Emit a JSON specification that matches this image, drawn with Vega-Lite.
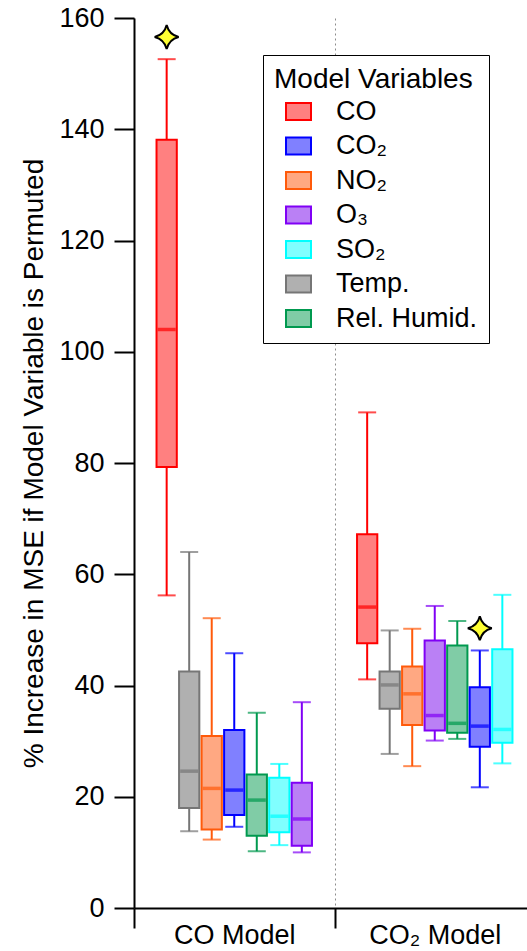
{
  "$schema": "https://vega.github.io/schema/vega-lite/v6.json",
  "width": 393,
  "height": 890,
  "autosize": {"type": "none"},
  "padding": {"left": 134, "top": 18, "right": 0, "bottom": 43},
  "config": {
    "font": "Liberation Sans",
    "view": {"stroke": null},
    "axis": {"labelColor": "black", "titleColor": "black", "domainColor": "black", "tickColor": "black"}
  },
  "data": {
    "values": [
      {"model": "CO Model", "variable": "CO", "lo": 56.2, "q1": 79.3, "med": 104.0, "q3": 138.1, "hi": 152.6, "star": 156.6},
      {"model": "CO Model", "variable": "Temp.", "lo": 13.8, "q1": 18.0, "med": 24.6, "q3": 42.5, "hi": 64.0},
      {"model": "CO Model", "variable": "NO₂", "lo": 12.3, "q1": 14.1, "med": 21.5, "q3": 30.9, "hi": 52.1},
      {"model": "CO Model", "variable": "CO₂", "lo": 14.6, "q1": 16.7, "med": 21.2, "q3": 32.0, "hi": 45.8},
      {"model": "CO Model", "variable": "Rel. Humid.", "lo": 10.2, "q1": 13.0, "med": 19.4, "q3": 24.0, "hi": 35.1},
      {"model": "CO Model", "variable": "SO₂", "lo": 11.3, "q1": 13.6, "med": 16.5, "q3": 23.4, "hi": 25.9},
      {"model": "CO Model", "variable": "O₃", "lo": 10.0, "q1": 11.2, "med": 16.0, "q3": 22.5, "hi": 37.0},
      {"model": "CO₂ Model", "variable": "CO", "lo": 41.1, "q1": 47.6, "med": 54.1, "q3": 67.2, "hi": 89.1},
      {"model": "CO₂ Model", "variable": "Temp.", "lo": 27.7, "q1": 35.8, "med": 40.1, "q3": 42.5, "hi": 49.9},
      {"model": "CO₂ Model", "variable": "NO₂", "lo": 25.5, "q1": 32.9, "med": 38.5, "q3": 43.4, "hi": 50.2},
      {"model": "CO₂ Model", "variable": "O₃", "lo": 30.1, "q1": 31.9, "med": 34.6, "q3": 48.1, "hi": 54.3},
      {"model": "CO₂ Model", "variable": "Rel. Humid.", "lo": 30.4, "q1": 31.5, "med": 33.2, "q3": 47.2, "hi": 51.6},
      {"model": "CO₂ Model", "variable": "CO₂", "lo": 21.7, "q1": 29.0, "med": 32.7, "q3": 39.7, "hi": 46.3, "star": 50.3},
      {"model": "CO₂ Model", "variable": "SO₂", "lo": 26.0, "q1": 29.7, "med": 32.1, "q3": 46.5, "hi": 56.3}
    ]
  },
  "transform": [
    {"window": [{"op": "row_number", "as": "rank"}], "groupby": ["model"], "sort": [{"field": "med", "order": "descending"}]}
  ],
  "encoding": {
    "x": {
      "field": "model", "type": "nominal",
      "scale": {"domain": ["CO Model", "CO₂ Model"], "range": [0, 401], "paddingInner": 0, "paddingOuter": 0},
      "axis": {
        "title": null, "labelAngle": 0, "labelFontSize": 27, "labelPadding": -6,
        "tickSize": 20, "tickWidth": 2, "domainWidth": 2, "tickBand": "extent",
        "grid": true, "gridDash": [2, 3], "gridColor": "#8c8c8c", "gridWidth": 1
      }
    },
    "xOffset": {
      "field": "rank", "type": "ordinal",
      "scale": {"domain": [1, 2, 3, 4, 5, 6, 7], "paddingInner": 0.1, "paddingOuter": 1.5}
    }
  },
  "layer": [
    {
      "mark": {"type": "rule", "strokeWidth": 2},
      "encoding": {
        "y": {
          "field": "lo", "type": "quantitative",
          "scale": {"domain": [0, 160], "nice": false, "zero": true},
          "title": "% Increase in MSE if Model Variable is Permuted",
          "axis": {
            "values": [0, 20, 40, 60, 80, 100, 120, 140, 160],
            "grid": false, "labelFontSize": 27, "labelPadding": 10,
            "tickSize": 20, "tickWidth": 2, "domainWidth": 2,
            "titleFontSize": 28, "titleFontWeight": "normal", "titlePadding": 10
          }
        },
        "y2": {"field": "hi"},
        "color": {
          "field": "variable", "type": "nominal",
          "scale": {
            "domain": ["Rel. Humid.", "CO", "CO₂", "NO₂", "O₃", "SO₂", "Temp."],
            "range": ["#00994F", "#FF0000", "#0000FF", "#FF5A0A", "#8000F5", "#00FFFF", "#767676"]
          },
          "legend": null
        }
      }
    },
    {
      "mark": {"type": "bar", "strokeWidth": 2},
      "encoding": {
        "y": {"field": "q1", "type": "quantitative", "title": "% Increase in MSE if Model Variable is Permuted"},
        "y2": {"field": "q3"},
        "fill": {
          "field": "variable", "type": "nominal",
          "scale": {
            "domain": ["CO", "CO₂", "NO₂", "O₃", "SO₂", "Temp.", "Rel. Humid."],
            "range": ["#FF8080", "#8080FF", "#FFA882", "#BA80F5", "#80FFFF", "#B0B0B0", "#80CCA6"]
          },
          "legend": {
            "orient": "none", "legendX": 129, "legendY": 37,
            "title": "Model Variables", "titleFontSize": 28, "titleFontWeight": "normal", "titleColor": "black",
            "titlePadding": 4, "titleLimit": 400,
            "labelFontSize": 27, "labelColor": "black", "labelOffset": 24, "labelLimit": 300,
            "symbolType": "M-1,-0.68H1V0.68H-1Z", "symbolSize": 625, "symbolStrokeWidth": 2, "symbolOffset": 11,
            "rowPadding": 6.5, "padding": 11,
            "strokeColor": "black", "fillColor": "white",
            "encode": {"legend": {"strokeWidth": {"value": 2}}}
          }
        },
        "stroke": {
          "field": "variable", "type": "nominal",
          "scale": {
            "domain": ["CO", "CO₂", "NO₂", "O₃", "SO₂", "Temp.", "Rel. Humid."],
            "range": ["#FF0000", "#0000FF", "#FF5A0A", "#8000F5", "#00FFFF", "#767676", "#00994F"]
          },
          "legend": {
            "orient": "none", "legendX": 129, "legendY": 37,
            "title": "Model Variables", "titleFontSize": 28, "titleFontWeight": "normal", "titleColor": "black",
            "titlePadding": 4, "titleLimit": 400,
            "labelFontSize": 27, "labelColor": "black", "labelOffset": 24, "labelLimit": 300,
            "symbolType": "M-1,-0.68H1V0.68H-1Z", "symbolSize": 625, "symbolStrokeWidth": 2, "symbolOffset": 11,
            "rowPadding": 6.5, "padding": 11,
            "strokeColor": "black", "fillColor": "white",
            "encode": {"legend": {"strokeWidth": {"value": 2}}}
          }
        }
      }
    },
    {
      "mark": {"type": "tick", "thickness": 3.5, "size": 18},
      "encoding": {
        "y": {"field": "med", "type": "quantitative", "title": "% Increase in MSE if Model Variable is Permuted"},
        "color": {"field": "variable", "type": "nominal", "legend": null}
      }
    },
    {
      "mark": {"type": "tick", "thickness": 2, "size": 18},
      "encoding": {
        "y": {"field": "lo", "type": "quantitative", "title": "% Increase in MSE if Model Variable is Permuted"},
        "color": {"field": "variable", "type": "nominal", "legend": null}
      }
    },
    {
      "mark": {"type": "tick", "thickness": 2, "size": 18},
      "encoding": {
        "y": {"field": "hi", "type": "quantitative", "title": "% Increase in MSE if Model Variable is Permuted"},
        "color": {"field": "variable", "type": "nominal", "legend": null}
      }
    },
    {
      "mark": {
        "type": "point",
        "shape": "M0,-1 Q0.2,-0.2 1,0 Q0.2,0.2 0,1 Q-0.2,0.2 -1,0 Q-0.2,-0.2 0,-1 Z",
        "size": 576, "filled": true, "fill": "#FFFF33", "stroke": "black", "strokeWidth": 2, "opacity": 1
      },
      "encoding": {
        "y": {"field": "star", "type": "quantitative", "title": "% Increase in MSE if Model Variable is Permuted"}
      }
    }
  ]
}
